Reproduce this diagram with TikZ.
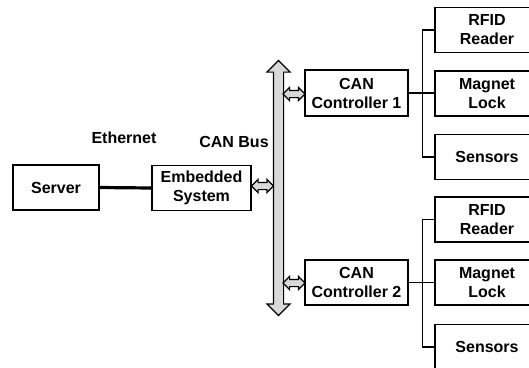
\documentclass[tikz,border=0pt]{standalone}
\usepackage{fontspec}
\setmainfont{Liberation Sans}
\usetikzlibrary{shapes.arrows}

\tikzset{
  block/.style={draw, line width=1.3pt, fill=white, align=center, minimum height=45pt,
    inner sep=0pt, font=\fontsize{16}{19}\selectfont\bfseries},
  dev/.style={block, minimum width=104pt},
  busarrow/.style={double arrow, draw, line width=1.2pt, fill=gray!30, inner xsep=0pt},
  tap/.style={busarrow, inner ysep=3pt, minimum height=22pt, minimum width=12pt,
    double arrow head extend=3pt},
  link/.style={line width=1.4pt},
  lbl/.style={font=\fontsize{16}{18}\selectfont\bfseries}
}

\begin{document}
\begin{tikzpicture}[x=1pt, y=-1pt]
    \useasboundingbox (0,0) rectangle (529,367);
    \clip (0,0) rectangle (529,367);

    % host side
    \node[block, minimum width=86pt] (server) at (56,187.5) {Server};
    \node[block, minimum width=99pt] (emb) at (201.5,188) {Embedded\\System};
    \draw[line width=3.2pt] (server.east) -- (emb.west);
    \node[lbl] (eth) at (124,138) {Ethernet};

    % CAN bus
    \node[busarrow, inner ysep=4.5pt, rotate=90, minimum height=255pt, minimum width=22pt,
      double arrow head extend=6.5pt] (bus) at (278.5,188) {};
    \node[lbl] (buslbl) at (234,142) {CAN Bus};

    % controllers
    \node[block, minimum width=103pt, minimum height=46pt] (ctrl1) at (356.5,93) {CAN\\Controller 1};
    \node[block, minimum width=103pt] (ctrl2) at (356.5,282.5) {CAN\\Controller 2};

    % bus taps
    \node[tap] (tap0) at (262.5,186) {};
    \node[tap] (tap1) at (294,94) {};
    \node[tap] (tap2) at (294,283) {};

    % devices of controller 1
    \node[dev] (rfid1) at (487,30) {RFID\\Reader};
    \node[dev] (lock1) at (487,93.5) {Magnet\\Lock};
    \node[dev] (sens1) at (487,157) {Sensors};
    \draw[link] (ctrl1.east) -- (ctrl1.east -| lock1.west);
    \draw[link] (rfid1.west) -- ++(-12,0) |- (sens1.west);

    % devices of controller 2
    \node[dev] (rfid2) at (487,219.5) {RFID\\Reader};
    \node[dev] (lock2) at (487,282.5) {Magnet\\Lock};
    \node[dev] (sens2) at (487,347) {Sensors};
    \draw[link] (ctrl2.east) -- (ctrl2.east -| lock2.west);
    \draw[link] (rfid2.west) -- ++(-12,0) |- (sens2.west);
\end{tikzpicture}
\end{document}
